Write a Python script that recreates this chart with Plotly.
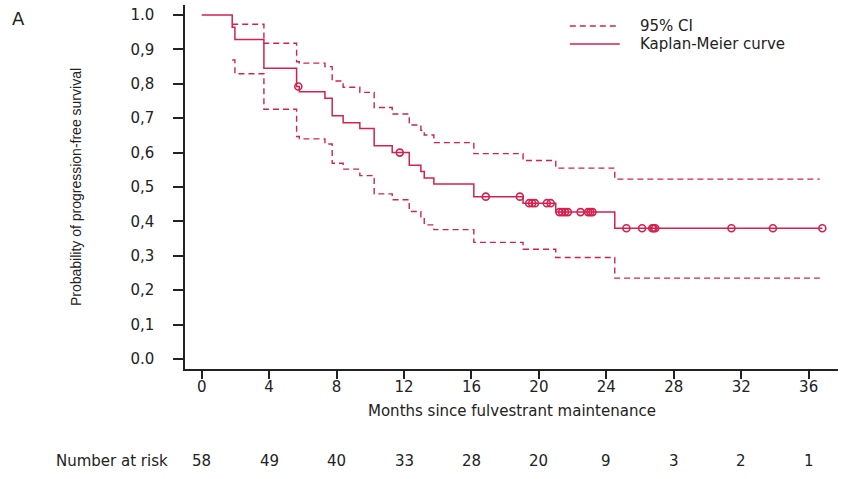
import plotly.graph_objects as go

# Kaplan-Meier curve (step times, survival after each step)
km_time = [0, 1.81, 1.97, 3.69, 5.63, 5.79, 7.31, 7.74, 8.39, 9.38, 10.23, 11.30,
           12.31, 13.0, 13.2, 13.77, 16.14, 19.06, 21.0, 24.5, 36.81]
km_surv = [1.0, 0.964, 0.929, 0.845, 0.792, 0.777, 0.758, 0.707, 0.687, 0.670, 0.620, 0.600,
           0.563, 0.545, 0.526, 0.509, 0.472, 0.453, 0.427, 0.380, 0.380]

# 95% confidence interval bounds
ci_time = [1.81, 1.97, 3.69, 5.63, 5.79, 7.31, 7.74, 8.39, 9.38, 10.23, 11.30,
           12.31, 13.0, 13.2, 13.77, 16.14, 19.06, 21.0, 24.5, 36.66]
ci_upper = [0.973, 0.973, 0.918, 0.864, 0.860, 0.850, 0.808, 0.790, 0.775, 0.731, 0.712,
            0.680, 0.665, 0.651, 0.629, 0.597, 0.577, 0.555, 0.523, 0.523]
ci_lower = [0.869, 0.829, 0.726, 0.647, 0.640, 0.625, 0.569, 0.552, 0.533, 0.480, 0.463,
            0.429, 0.410, 0.390, 0.376, 0.339, 0.319, 0.295, 0.235, 0.235]

# Censored observations
cens_time = [5.73, 11.75, 16.85, 18.87, 19.42, 19.60, 19.77, 20.47, 20.70,
             21.22, 21.38, 21.55, 21.72, 22.47, 22.92, 23.05, 23.18,
             25.19, 26.12, 26.72, 26.80, 26.90, 31.42, 33.88, 36.81]
cens_surv = [0.792, 0.600, 0.472, 0.472, 0.453, 0.453, 0.453, 0.453, 0.453,
             0.427, 0.427, 0.427, 0.427, 0.427, 0.427, 0.427, 0.427,
             0.380, 0.380, 0.380, 0.380, 0.380, 0.380, 0.380, 0.380]

# Axis ticks and risk table
x_ticks = [0, 4, 8, 12, 16, 20, 24, 28, 32, 36]
y_ticks = [0.0, 0.1, 0.2, 0.3, 0.4, 0.5, 0.6, 0.7, 0.8, 0.9, 1.0]
y_ticktext = ["0.0", "0,1", "0,2", "0,3", "0,4", "0,5", "0,6", "0,7", "0,8", "0,9", "1.0"]
at_risk = [58, 49, 40, 33, 28, 20, 9, 3, 2, 1]
legend_labels = ["95% CI", "Kaplan-Meier curve"]

RED = "#D3224F"
FONT = "DejaVu Sans, sans-serif"
FONT2 = "Liberation Sans, Arial, sans-serif"
TXT = "#222222"
DASH = "6px,4px"

fig = go.Figure()
fig.add_trace(go.Scatter(x=ci_time, y=ci_upper, mode="lines", line_shape="hv",
                         line=dict(color=RED, width=1.4, dash=DASH),
                         name=legend_labels[0], showlegend=False))
fig.add_trace(go.Scatter(x=ci_time, y=ci_lower, mode="lines", line_shape="hv",
                         line=dict(color=RED, width=1.4, dash=DASH),
                         name=legend_labels[0], showlegend=False))
fig.add_trace(go.Scatter(x=km_time, y=km_surv, mode="lines", line_shape="hv",
                         line=dict(color=RED, width=1.5),
                         name=legend_labels[1], showlegend=False))
fig.add_trace(go.Scatter(x=cens_time, y=cens_surv, mode="markers",
                         marker=dict(symbol="circle-open", size=7, color=RED,
                                     line=dict(width=1.6, color=RED)),
                         showlegend=False, name="Censored"))

annotations = []
for t, n in zip(x_ticks, at_risk):
    annotations.append(dict(x=t, y=-0.252, xref="x", yref="paper", text=str(n),
                            showarrow=False, xanchor="center", yanchor="middle",
                            font=dict(family=FONT, size=15, color=TXT)))
annotations.append(dict(x=-0.023, y=-0.252, xref="paper", yref="paper", text="Number at risk",
                        showarrow=False, xanchor="right", yanchor="middle",
                        font=dict(family=FONT, size=15, color=TXT)))
annotations.append(dict(x=0.5, y=-0.1145, xref="paper", yref="paper",
                        text="Months since fulvestrant maintenance",
                        showarrow=False, xanchor="center", yanchor="middle",
                        font=dict(family=FONT, size=15, color=TXT)))
annotations.append(dict(x=-0.1668, y=0.5, xref="paper", yref="paper",
                        text="Probability of progression-free survival", textangle=-90,
                        showarrow=False, xanchor="center", yanchor="middle",
                        font=dict(family=FONT2, size=14, color=TXT)))
annotations.append(dict(x=-0.2556, y=0.964, xref="paper", yref="paper", text="A",
                        showarrow=False, xanchor="center", yanchor="middle",
                        font=dict(family=FONT, size=18, color=TXT)))

# legend drawn as line samples + text
shapes = []
leg_y = [0.9423, 0.8929]
leg_dash = [DASH, "solid"]
for lab, ly, dsh in zip(legend_labels, leg_y, leg_dash):
    shapes.append(dict(type="line", xref="paper", yref="paper", x0=0.5893, x1=0.6658,
                       y0=ly, y1=ly, line=dict(color=RED, width=1.4, dash=dsh)))
    annotations.append(dict(x=0.6934, y=ly, xref="paper", yref="paper", text=lab,
                            showarrow=False, xanchor="left", yanchor="middle",
                            font=dict(family=FONT, size=15, color=TXT)))

fig.update_layout(
    width=865, height=479,
    margin=dict(l=185, r=27, t=5, b=110),
    plot_bgcolor="white", paper_bgcolor="white",
    font=dict(family=FONT, size=15, color=TXT),
    showlegend=False,
    annotations=annotations,
    shapes=shapes,
)
fig.update_xaxes(range=[-0.99, 37.74], tickmode="array", tickvals=x_ticks,
                 showgrid=False, zeroline=False, showline=True, linecolor=TXT, linewidth=1.5,
                 ticks="outside", ticklen=8, tickwidth=1.5, tickcolor=TXT,
                 ticklabelstandoff=-5,
                 tickfont=dict(family=FONT, size=15, color=TXT))
fig.update_yaxes(range=[-0.029, 1.029], tickmode="array", tickvals=y_ticks,
                 ticktext=y_ticktext,
                 showgrid=False, zeroline=False, showline=True, linecolor=TXT, linewidth=1.5,
                 ticks="outside", ticklen=10, tickwidth=1.5, tickcolor=TXT,
                 ticklabelstandoff=16,
                 tickfont=dict(family=FONT, size=15, color=TXT))

fig.write_html("out.html", config={"displayModeBar": False},
               post_script="document.body.style.margin='0px';")
